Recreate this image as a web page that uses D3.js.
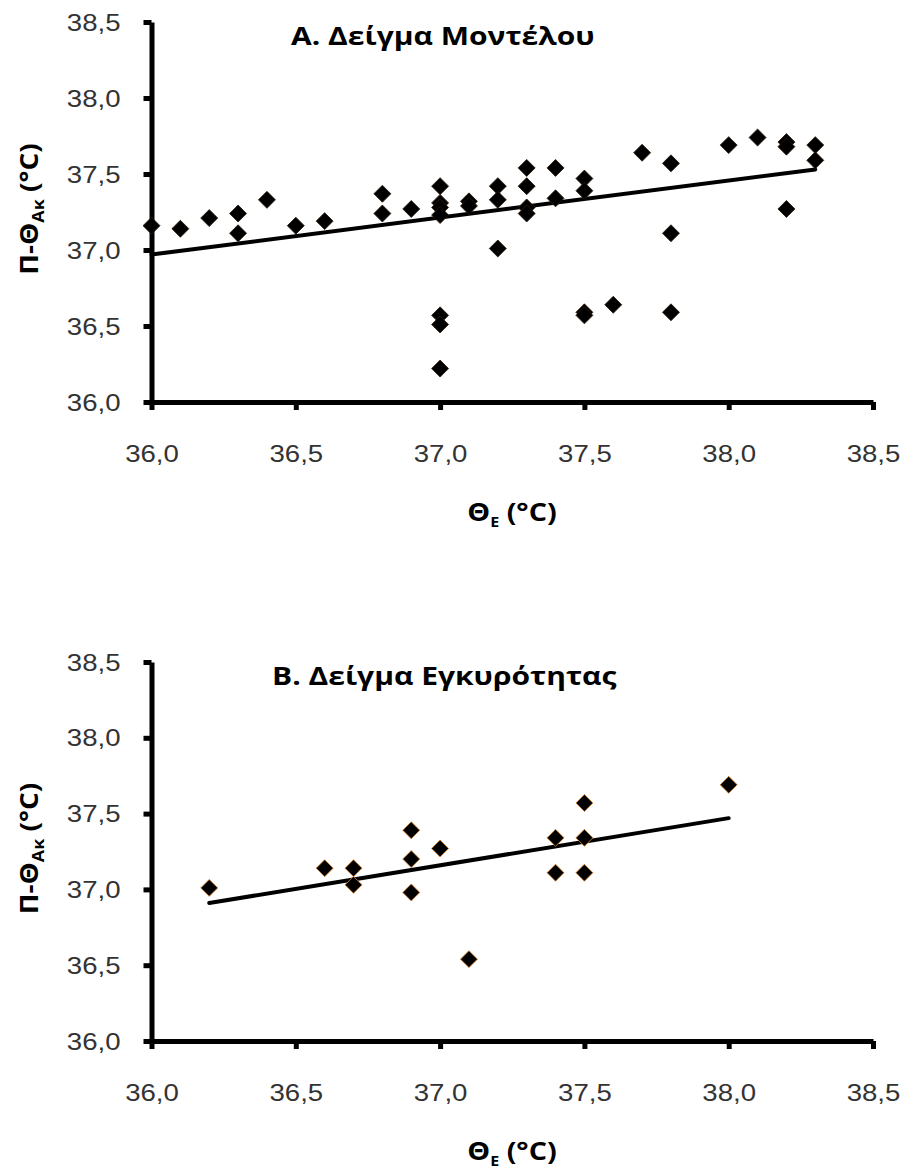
<!DOCTYPE html>
<html>
<head>
<meta charset="utf-8">
<script src="https://cdn.jsdelivr.net/npm/d3@7"></script>
<style>
  body { margin: 0; background: #fff; }
  svg { display: block; font-family: "Open Sans", sans-serif; }
  .axis text { font-size: 23px; fill: #333; }
  .axis .domain, .axis .tick line { stroke: #000 !important; stroke-width: 5px !important; }
  .title, .label { font-weight: bold; fill: #000; }
</style>
</head>
<body>
<script>
// model sample (A)
var modelX = [36.0, 36.1, 36.2, 36.3, 36.3, 36.4, 36.5, 36.6, 36.8, 36.8, 36.9,
  37.0, 37.0, 37.0, 37.0, 37.0, 37.0, 37.0, 37.1, 37.1, 37.2, 37.2, 37.2,
  37.3, 37.3, 37.3, 37.3, 37.4, 37.4, 37.5, 37.5, 37.5, 37.5, 37.6, 37.7,
  37.8, 37.8, 37.8, 38.0, 38.1, 38.2, 38.2, 38.2, 38.3, 38.3]
var modelY = [37.16, 37.14, 37.21, 37.24, 37.11, 37.33, 37.16, 37.19, 37.37, 37.24, 37.27,
  37.42, 37.31, 37.28, 37.23, 36.57, 36.51, 36.22, 37.32, 37.29, 37.42, 37.33, 37.01,
  37.54, 37.42, 37.28, 37.24, 37.54, 37.34, 37.47, 37.39, 36.59, 36.57, 36.64, 37.64,
  37.57, 37.11, 36.59, 37.69, 37.74, 37.71, 37.68, 37.27, 37.69, 37.59]
var modelTrend = [[36.0, 36.97], [38.3, 37.53]]

// validation sample (B)
var validX = [36.2, 36.6, 36.7, 36.7, 36.9, 36.9, 36.9, 37.0, 37.1, 37.4, 37.4, 37.5, 37.5, 37.5, 38.0]
var validY = [37.01, 37.14, 37.14, 37.03, 37.39, 37.20, 36.98, 37.27, 36.54, 37.34, 37.11, 37.57, 37.34, 37.11, 37.69]
var validTrend = [[36.2, 36.91], [38.0, 37.47]]

var xTicks = [36.0, 36.5, 37.0, 37.5, 38.0, 38.5]
var yTicks = [36.0, 36.5, 37.0, 37.5, 38.0, 38.5]

var W = 903
var H = 1171
var SX = 1.2 // the source figure is stretched sideways, text too
var svg = d3.select('body').append('svg').attr('width', W).attr('height', H)
svg.append('rect').attr('width', W).attr('height', H).attr('fill', '#fff')

var fmt = function (d) { return d3.format('.1f')(d).replace('.', ',') }

function drawPanel (top, bottom, xs, ys, trend, title, titleX, edge) {
  var x = d3.scaleLinear().domain([36, 38.5]).range([151.5, 873])
  var y = d3.scaleLinear().domain([36, 38.5]).range([bottom, top])
  var g = svg.append('g')

  g.append('g')
    .attr('class', 'axis')
    .attr('transform', 'translate(151.5,0)')
    .call(d3.axisLeft(y).tickValues(yTicks).tickFormat(fmt).tickSize(8).tickSizeOuter(0))
    .call(s => s.selectAll('text')
      .attr('x', -31 / SX)
      .attr('dy', '0.35em')
      .attr('transform', 'scale(' + SX + ',1)'))

  g.append('g')
    .attr('class', 'axis')
    .attr('transform', 'translate(0,' + bottom + ')')
    .call(d3.axisBottom(x).tickValues(xTicks).tickFormat(fmt).tickSize(8).tickSizeOuter(0).tickPadding(36))
    .call(s => s.selectAll('text').attr('transform', 'scale(' + SX + ',1)'))

  // regression line
  g.append('path')
    .datum(trend)
    .attr('fill', 'none')
    .attr('stroke', '#000')
    .attr('stroke-width', 4)
    .attr('stroke-linecap', 'round')
    .attr('d', d3.line().x(d => x(d[0])).y(d => y(d[1])))

  var pts = xs.map((v, i) => [v, ys[i]])
  g.selectAll('.pt')
    .data(pts)
    .enter()
    .append('path')
    .attr('class', 'pt')
    .attr('d', d3.symbol(d3.symbolSquare, 144)())
    .attr('transform', d => 'translate(' + x(d[0]) + ',' + y(d[1]) + ') rotate(45)')
    .attr('fill', '#000')
    .attr('stroke', edge)
    .attr('stroke-width', 0.8)

  g.append('text')
    .attr('class', 'title')
    .attr('transform', 'translate(' + titleX + ',' + (top + 23) + ') scale(' + SX + ',1)')
    .style('font-size', '25px')
    .text(title)

  // y axis label
  var yl = g.append('text')
    .attr('class', 'label')
    .attr('transform', 'translate(38,' + ((top + bottom) / 2 - 3) + ') rotate(-90) scale(1.12,1)')
    .attr('text-anchor', 'middle')
    .style('font-size', '25px')
  yl.append('tspan').text('Π-Θ')
  yl.append('tspan').attr('dy', 6).style('font-size', '16px').text('Ακ')
  yl.append('tspan').attr('dy', -6).text(' (°C)')

  // x axis label
  var xl = g.append('text')
    .attr('class', 'label')
    .attr('transform', 'translate(512,' + (bottom + 119) + ') scale(1.15,1)')
    .attr('text-anchor', 'middle')
    .style('font-size', '25px')
  xl.append('tspan').text('Θ')
  xl.append('tspan').attr('dy', 6).style('font-size', '14px').text('E')
  xl.append('tspan').attr('dy', -6).text(' (°C)')
}

drawPanel(22, 402, modelX, modelY, modelTrend, 'Α. Δείγμα Μοντέλου', 291, '#2a1a0a')
drawPanel(662, 1041, validX, validY, validTrend, 'Β. Δείγμα Εγκυρότητας', 272, '#d2802a')
</script>
</body>
</html>
